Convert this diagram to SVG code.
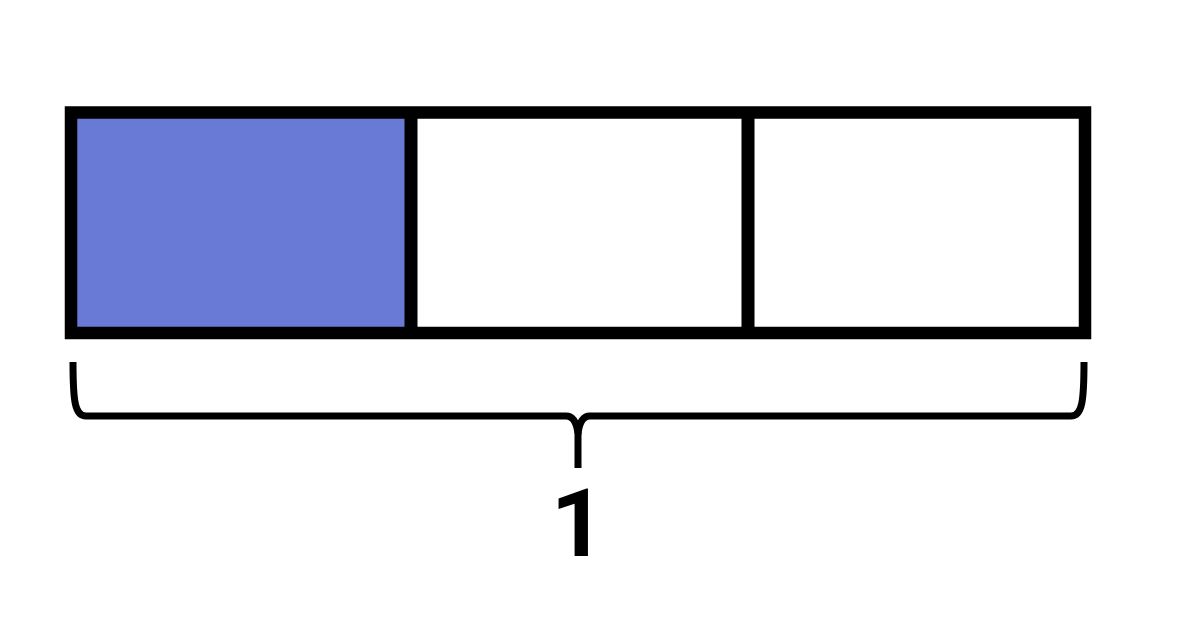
<svg xmlns="http://www.w3.org/2000/svg" width="1193" height="635" viewBox="0 0 1193 635">
  <style>
    .frame { fill: none; stroke: #000; stroke-width: 12.5; }
    .div { stroke: #000; stroke-width: 13; }
    .brace { fill: none; stroke: #000; stroke-width: 7; stroke-linecap: butt; stroke-linejoin: round; }
    .lbl { font-family: Roboto, "Liberation Sans", sans-serif; font-weight: 700; font-size: 95px; fill: #000; }
  </style>
  <rect width="1193" height="635" fill="#fff"/>
  <g id="bar">
    <rect id="part1" x="71" y="112" width="340" height="221" fill="#6879d6"/>
    <rect id="part2" x="411" y="112" width="337" height="221" fill="#fff"/>
    <rect id="part3" x="748" y="112" width="337" height="221" fill="#fff"/>
    <line class="div" x1="411" y1="112" x2="411" y2="333"/>
    <line class="div" x1="748" y1="112" x2="748" y2="333"/>
    <rect class="frame" x="71" y="112.5" width="1014" height="220.5"/>
  </g>
  <g id="connectors">
    <path class="brace" d="M73,362 C73,402 75,416 86,416 L566,416 Q576,416 578,434 L578,468"/>
    <path class="brace" d="M1084,362 C1084,402 1082,416 1071,416 L590,416 Q580,416 578,434"/>
  </g>
  <g id="label">
    <text class="lbl" x="578" y="556" text-anchor="middle">1</text>
  </g>
</svg>
